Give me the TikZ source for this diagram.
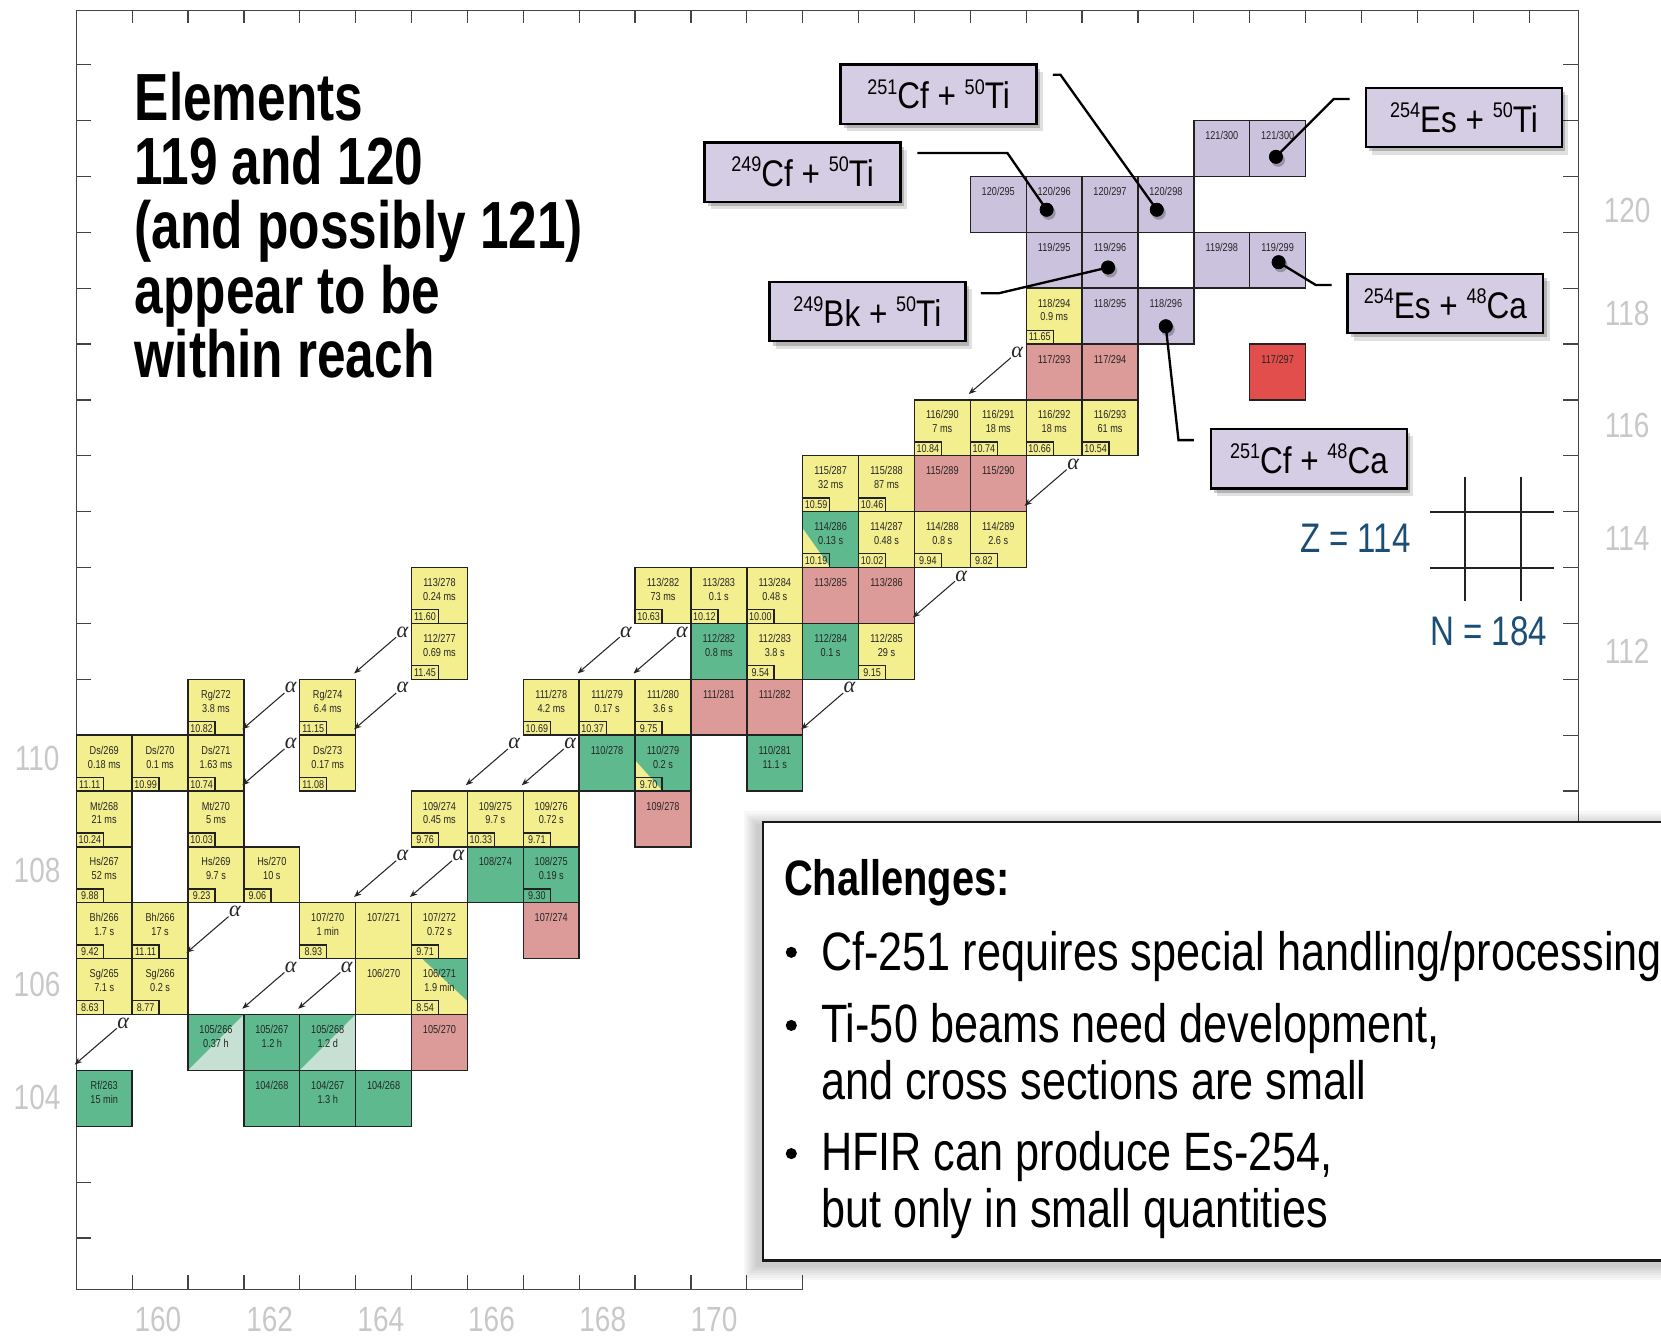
\documentclass[tikz,border=0pt]{standalone}
\usepackage{fontspec}
\setmainfont{Liberation Sans}
\newfontfamily\cellfont{Liberation Sans}[FakeStretch=0.8]
\newfontfamily\tfont{Liberation Sans}[FakeStretch=0.77]
\newfontfamily\bfont{Liberation Sans}[FakeStretch=0.8]
\newfontfamily\rfont{Liberation Sans}[FakeStretch=0.85]
\newfontfamily\grkfont{Liberation Serif}
\usetikzlibrary{arrows.meta,shadows}
\definecolor{cyel}{HTML}{F3EE8E}
\definecolor{cgrn}{HTML}{5EBA8E}
\definecolor{clgr}{HTML}{C6E1D3}
\definecolor{cpnk}{HTML}{DC9A98}
\definecolor{clav}{HTML}{CBC3DE}
\definecolor{cred}{HTML}{E14E4C}
\definecolor{rlav}{HTML}{D5CDE3}
\definecolor{cline}{HTML}{222222}
\definecolor{zblue}{HTML}{1C4E75}
\definecolor{agray}{HTML}{C8C8C8}
\definecolor{axc}{HTML}{444444}

\newcommand\nuc[7][]{%
  \node[cell, fill=#4, #1] (c#2-#3) at ({72+(#2-159)*52.75+26.375},{694-(#3-110)*52.75+26.375}) {};
  \node[ctext] (c#2-#3-l) at ([yshift=-18pt]c#2-#3.north) {#5};
  \if\relax\detokenize{#6}\relax\else
    \node[ctext] (c#2-#3-h) at ([yshift=-31pt]c#2-#3.north) {#6};
  \fi
  \if\relax\detokenize{#7}\relax\else
    \node[ebox] (c#2-#3-e) at (c#2-#3.south west) {#7};
  \fi}
\newcommand\aarr[3]{%
  \coordinate (#1s) at ({72+#2*52.75-14.5},{694-(#3-110)*52.75+13});
  \coordinate (#1e) at ({72+#2*52.75-54.25},{694-(#3-110)*52.75+47.25});
  \draw[aarrow] (#1s) -- (#1e);
  \node[alab] (#1l) at ({72+#2*52.75-8.5},{694-(#3-110)*52.75+8}) {α};}
\newcommand\sps[1]{\raisebox{14pt}{\fontsize{20}{20}\selectfont #1}}

\begin{document}
\begin{tikzpicture}[x=1pt,y=-1pt,
  cell/.style={draw=cline, line width=1.3pt, minimum width=52.75pt, minimum height=52.75pt, inner sep=0pt, outer sep=0pt},
  ctext/.style={font={\cellfont\fontsize{10.8}{12}\selectfont}, inner sep=0pt, anchor=base, text=black!85},
  ebox/.style={draw=cline, line width=1.3pt, minimum width=25.5pt, minimum height=13pt, inner sep=0pt, outer sep=0pt, anchor=south west, font={\cellfont\fontsize{10.6}{12}\selectfont}, text=black!85},
  ytriA/.style={path picture={\fill[cyel] ([yshift=-23.7pt]path picture bounding box.north west) -- (path picture bounding box.south west) -- ([xshift=26pt]path picture bounding box.south west) -- cycle;}},
  ytriB/.style={path picture={\fill[cyel] ([yshift=-15.8pt]path picture bounding box.north west) -- (path picture bounding box.south west) -- ([xshift=26pt]path picture bounding box.south west) -- cycle;}},
  gtri/.style={path picture={\fill[cgrn] ([xshift=10pt]path picture bounding box.north west) -- (path picture bounding box.north east) -- ([yshift=-40pt]path picture bounding box.north east) -- cycle;}},
  lgtri/.style={path picture={\fill[clgr] (path picture bounding box.south west) -- (path picture bounding box.north east) -- (path picture bounding box.south east) -- cycle;}},
  aarrow/.style={line width=1pt, draw=black!85, -{Stealth[length=7pt,width=5.5pt]}},
  alab/.style={font={\grkfont\itshape\fontsize{21}{22}\selectfont}, inner sep=0pt, text=black!85},
  axis/.style={line width=1.2pt, draw=axc},
  glab/.style={font={\cellfont\fontsize{33}{36}\selectfont}, text=agray, inner sep=0pt},
  rbox/.style={draw=black, line width=2.2pt, fill=rlav, minimum width=185pt, minimum height=56pt, inner sep=0pt,
     font={\rfont\fontsize{35}{40}\selectfont},
     drop shadow={shadow xshift=6pt, shadow yshift=-7pt, opacity=0.12, fill=black},
     drop shadow={shadow xshift=3pt, shadow yshift=-4pt, opacity=0.2, fill=black}},
  dotn/.style={circle, fill=black, minimum size=13pt, inner sep=0pt,
     drop shadow={shadow xshift=2pt, shadow yshift=-3pt, opacity=0.25, fill=black}},
  conn/.style={line width=2.2pt, draw=black},
  xh/.style={line width=2pt, draw=cline},
  ttl/.style={font={\tfont\bfseries\fontsize{63}{63}\selectfont}, anchor=base west, inner sep=0pt},
  btxt/.style={font={\bfont\fontsize{51}{55}\selectfont}, anchor=base west, inner sep=0pt},
  bul/.style={circle, fill=black, minimum size=10.5pt, inner sep=0pt}
]
\useasboundingbox (0,0) rectangle (1568,1263);
\clip (0,0) rectangle (1568,1263);

% axes frame and ticks
\draw[axis] (72,1217) -- (72,10) -- (1490,10) -- (1490,785);
\draw[axis] (72,1217) -- (757.75,1217);
\foreach \k in {1,...,26} \draw[axis] ({72+\k*52.75},10) -- ++(0,12);
\foreach \k in {-12,...,9} \draw[axis] (72,{694+\k*52.75}) -- ++(14,0);
\foreach \k in {-12,...,1} \draw[axis] (1490,{694+\k*52.75}) -- ++(-15,0);
\foreach \k in {1,...,13} \draw[axis] ({72+\k*52.75},1217) -- ++(0,-13);

% axis labels
\node[glab] (zl110) at (35,716) {110};
\node[glab] (zl108) at (35,822) {108};
\node[glab] (zl106) at (35,929) {106};
\node[glab] (zl104) at (35,1036) {104};
\node[glab] (zr120) at (1536,198.5) {120};
\node[glab] (zr118) at (1536,296) {118};
\node[glab] (zr116) at (1536,401.5) {116};
\node[glab] (zr114) at (1536,508) {114};
\node[glab] (zr112) at (1536,614.5) {112};
\node[glab] (n160) at (149,1246) {160};
\node[glab] (n162) at (254.5,1246) {162};
\node[glab] (n164) at (359.5,1246) {164};
\node[glab] (n166) at (464,1246) {166};
\node[glab] (n168) at (569,1246) {168};
\node[glab] (n170) at (674,1246) {170};

% nuclide cells
\nuc{165}{113}{cyel}{113/278}{0.24 ms}{11.60}
\nuc{169}{113}{cyel}{113/282}{73 ms}{10.63}
\nuc{170}{113}{cyel}{113/283}{0.1 s}{10.12}
\nuc{171}{113}{cyel}{113/284}{0.48 s}{10.00}
\nuc{172}{113}{cpnk}{113/285}{}{}
\nuc{173}{113}{cpnk}{113/286}{}{}
\nuc{165}{112}{cyel}{112/277}{0.69 ms}{11.45}
\nuc{170}{112}{cgrn}{112/282}{0.8 ms}{}
\nuc{171}{112}{cyel}{112/283}{3.8 s}{9.54}
\nuc{172}{112}{cgrn}{112/284}{0.1 s}{}
\nuc{173}{112}{cyel}{112/285}{29 s}{9.15}
\nuc{161}{111}{cyel}{Rg/272}{3.8 ms}{10.82}
\nuc{163}{111}{cyel}{Rg/274}{6.4 ms}{11.15}
\nuc{167}{111}{cyel}{111/278}{4.2 ms}{10.69}
\nuc{168}{111}{cyel}{111/279}{0.17 s}{10.37}
\nuc{169}{111}{cyel}{111/280}{3.6 s}{9.75}
\nuc{170}{111}{cpnk}{111/281}{}{}
\nuc{171}{111}{cpnk}{111/282}{}{}
\nuc{159}{110}{cyel}{Ds/269}{0.18 ms}{11.11}
\nuc{160}{110}{cyel}{Ds/270}{0.1 ms}{10.99}
\nuc{161}{110}{cyel}{Ds/271}{1.63 ms}{10.74}
\nuc{163}{110}{cyel}{Ds/273}{0.17 ms}{11.08}
\nuc{168}{110}{cgrn}{110/278}{}{}
\nuc[ytriA]{169}{110}{cgrn}{110/279}{0.2 s}{9.70}
\nuc{171}{110}{cgrn}{110/281}{11.1 s}{}
\nuc{159}{109}{cyel}{Mt/268}{21 ms}{10.24}
\nuc{161}{109}{cyel}{Mt/270}{5 ms}{10.03}
\nuc{165}{109}{cyel}{109/274}{0.45 ms}{9.76}
\nuc{166}{109}{cyel}{109/275}{9.7 s}{10.33}
\nuc{167}{109}{cyel}{109/276}{0.72 s}{9.71}
\nuc{169}{109}{cpnk}{109/278}{}{}
\nuc{159}{108}{cyel}{Hs/267}{52 ms}{9.88}
\nuc{161}{108}{cyel}{Hs/269}{9.7 s}{9.23}
\nuc{162}{108}{cyel}{Hs/270}{10 s}{9.06}
\nuc{166}{108}{cgrn}{108/274}{}{}
\nuc{167}{108}{cgrn}{108/275}{0.19 s}{9.30}
\nuc{159}{107}{cyel}{Bh/266}{1.7 s}{9.42}
\nuc{160}{107}{cyel}{Bh/266}{17 s}{11.11}
\nuc{163}{107}{cyel}{107/270}{1 min}{8.93}
\nuc{164}{107}{cyel}{107/271}{}{}
\nuc{165}{107}{cyel}{107/272}{0.72 s}{9.71}
\nuc{167}{107}{cpnk}{107/274}{}{}
\nuc{159}{106}{cyel}{Sg/265}{7.1 s}{8.63}
\nuc{160}{106}{cyel}{Sg/266}{0.2 s}{8.77}
\nuc{164}{106}{cyel}{106/270}{}{}
\nuc[gtri]{165}{106}{cyel}{106/271}{1.9 min}{8.54}
\nuc[lgtri]{161}{105}{cgrn}{105/266}{0.37 h}{}
\nuc{162}{105}{cgrn}{105/267}{1.2 h}{}
\nuc[lgtri]{163}{105}{cgrn}{105/268}{1.2 d}{}
\nuc{165}{105}{cpnk}{105/270}{}{}
\nuc{159}{104}{cgrn}{Rf/263}{15 min}{}
\nuc{162}{104}{cgrn}{104/268}{}{}
\nuc{163}{104}{cgrn}{104/267}{1.3 h}{}
\nuc{164}{104}{cgrn}{104/268}{}{}
\nuc[ytriB]{172}{114}{cgrn}{114/286}{0.13 s}{10.19}
\nuc{173}{114}{cyel}{114/287}{0.48 s}{10.02}
\nuc{174}{114}{cyel}{114/288}{0.8 s}{9.94}
\nuc{175}{114}{cyel}{114/289}{2.6 s}{9.82}
\nuc{172}{115}{cyel}{115/287}{32 ms}{10.59}
\nuc{173}{115}{cyel}{115/288}{87 ms}{10.46}
\nuc{174}{115}{cpnk}{115/289}{}{}
\nuc{175}{115}{cpnk}{115/290}{}{}
\nuc{174}{116}{cyel}{116/290}{7 ms}{10.84}
\nuc{175}{116}{cyel}{116/291}{18 ms}{10.74}
\nuc{176}{116}{cyel}{116/292}{18 ms}{10.66}
\nuc{177}{116}{cyel}{116/293}{61 ms}{10.54}
\nuc{176}{117}{cpnk}{117/293}{}{}
\nuc{177}{117}{cpnk}{117/294}{}{}
\nuc{180}{117}{cred}{117/297}{}{}
\nuc{176}{118}{cyel}{118/294}{0.9 ms}{11.65}
\nuc{177}{118}{clav}{118/295}{}{}
\nuc{178}{118}{clav}{118/296}{}{}
\nuc{176}{119}{clav}{119/295}{}{}
\nuc{177}{119}{clav}{119/296}{}{}
\nuc{179}{119}{clav}{119/298}{}{}
\nuc{180}{119}{clav}{119/299}{}{}
\nuc{175}{120}{clav}{120/295}{}{}
\nuc{176}{120}{clav}{120/296}{}{}
\nuc{177}{120}{clav}{120/297}{}{}
\nuc{178}{120}{clav}{120/298}{}{}
\nuc{179}{121}{clav}{121/300}{}{}
\nuc{180}{121}{clav}{121/300}{}{}

% alpha decay arrows
\aarr{a1}{1}{105}
\aarr{a2}{3}{107}
\aarr{a3}{4}{106}
\aarr{a4}{5}{106}
\aarr{a5}{4}{110}
\aarr{a6}{4}{111}
\aarr{a7}{6}{112}
\aarr{a8}{6}{111}
\aarr{a9}{6}{108}
\aarr{a10}{7}{108}
\aarr{a11}{8}{110}
\aarr{a12}{9}{110}
\aarr{a13}{10}{112}
\aarr{a14}{11}{112}
\aarr{a15}{14}{111}
\aarr{a16}{16}{113}
\aarr{a17}{18}{115}
\aarr{a18}{17}{117}

% reaction boxes
\node[rbox] (r251Ti) at (886,89) {\sps{251}Cf + \sps{50}Ti};
\node[rbox] (r249Cf) at (757.7,162.5) {\sps{249}Cf + \sps{50}Ti};
\node[rbox] (r249Bk) at (818.8,294.2) {\sps{249}Bk + \sps{50}Ti};
\node[rbox] (r254Ti) at (1382,111) {\sps{254}Es + \sps{50}Ti};
\node[rbox] (r254Ca) at (1364.4,286.5) {\sps{254}Es + \sps{48}Ca};
\node[rbox] (r251Ca) at (1235.6,433) {\sps{251}Cf + \sps{48}Ca};

% dots
\node[dotn] (d1) at (988,198) {};
\node[dotn] (d2) at (1092,198) {};
\node[dotn] (d3) at (1204.5,148) {};
\node[dotn] (d4) at (1046,252.5) {};
\node[dotn] (d5) at (1207,247.5) {};
\node[dotn] (d6) at (1100.5,308) {};

% connectors
\coordinate (k1a) at (866,144.5); \coordinate (k1b) at (951,144.5);
\draw[conn] (k1a) -- (k1b) -- (d1.center);
\coordinate (k2a) at (994,70.5); \coordinate (k2b) at (1001,70.5);
\draw[conn] (k2a) -- (k2b) -- (d2.center);
\coordinate (k3a) at (1274,93.5); \coordinate (k3b) at (1259,93.5);
\draw[conn] (k3a) -- (k3b) -- (d3.center);
\coordinate (k4a) at (926,276.8); \coordinate (k4b) at (943,276.8);
\draw[conn] (k4a) -- (k4b) -- (d4.center);
\coordinate (k5a) at (1257,269); \coordinate (k5b) at (1242,269);
\draw[conn] (d5.center) -- (k5b) -- (k5a);
\coordinate (k6a) at (1127,415.5); \coordinate (k6b) at (1112.5,415.5);
\draw[conn] (d6.center) -- (k6b) -- (k6a);
\foreach \d in {d1,d2,d3,d4,d5,d6} \fill (\d) circle (6.5);

% crosshair and magic numbers
\draw[xh] (1383,450) -- (1383,567);
\draw[xh] (1436,450) -- (1436,567);
\draw[xh] (1350,483) -- (1467,483);
\draw[xh] (1350,536) -- (1467,536);
\node[font={\cellfont\fontsize{39}{42}\selectfont}, text=zblue, anchor=base west, inner sep=0pt] (zlab) at (1227,521.7) {Z = 114};
\node[font={\cellfont\fontsize{39}{42}\selectfont}, text=zblue, anchor=base west, inner sep=0pt] (nlab) at (1350,609.5) {N = 184};

% title
\node[ttl] (t1) at (127,114) {Elements};
\node[ttl] (t2) at (127,174.5) {119 and 120};
\node[ttl] (t3) at (127,235) {(and possibly 121)};
\node[ttl] (t4) at (127,295.5) {appear to be};
\node[ttl] (t5) at (127,356) {within reach};

% challenges box
\foreach \d in {2,4,...,14} \fill[black,opacity=0.03] ({716-\d},{780-\d}) rectangle (1600,{1194+\d});
\draw[line width=2.2pt, draw=black!90, fill=white] (720,776) rectangle (1600,1190);
\node[font={\bfont\bfseries\fontsize{47}{52}\selectfont}, anchor=base west, inner sep=0pt] (ch) at (740,845) {Challenges:};
\node[bul] (b1) at (747,899) {};
\node[bul] (b2) at (747,968) {};
\node[bul] (b3) at (747,1089) {};
\node[btxt] (l1) at (775,916) {Cf-251 requires special handling/processing};
\node[btxt] (l2) at (775,984) {Ti-50 beams need development,};
\node[btxt] (l3) at (775,1038) {and cross sections are small};
\node[btxt] (l4) at (775,1105) {HFIR can produce Es-254,};
\node[btxt] (l5) at (775,1159) {but only in small quantities};
\end{tikzpicture}
\end{document}
